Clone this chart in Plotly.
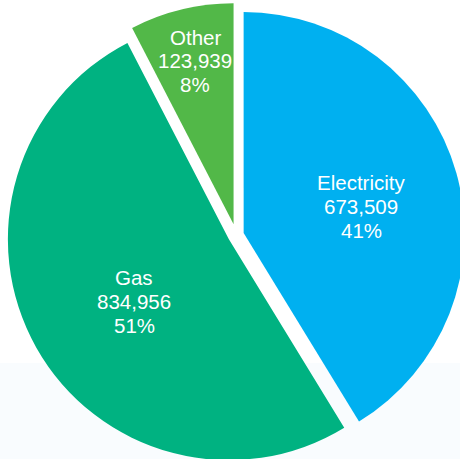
import plotly.graph_objects as go

# Energy consumption by fuel
labels = ["Electricity", "Gas", "Other"]
values = [673509, 834956, 123939]

colors = ["#00B0F0", "#00B281", "#52B848"]
pulls = [0.035, 0.038, 0.05]

# canvas (px); slightly wider than the viewport so the pie bleeds off the edges
W = H = 472
cx, cy, r = 236.2, 235.1, 221.0
half = r * (1 + max(pulls))
domain_x = [(cx - half) / W, (cx + half) / W]
domain_y = [1 - (cy + half) / H, 1 - (cy - half) / H]

fig = go.Figure(
    go.Pie(
        labels=labels,
        values=values,
        sort=False,
        direction="clockwise",
        rotation=0,
        pull=pulls,
        marker=dict(colors=colors, line=dict(width=0)),
        textinfo="none",
        hoverinfo="label+value+percent",
        showlegend=False,
        domain=dict(x=domain_x, y=domain_y),
    )
)

# label block centres (px) and line pitch
label_pos = [(361, 206.5), (134, 301.5), (195, 61)]
pitch = 24
total = sum(values)
font = dict(family="Arial, Liberation Sans, sans-serif", size=20.5, color="white")

annotations = []
for (lx, ly), name, v in zip(label_pos, labels, values):
    lines = [name, f"{v:,}", f"{round(100 * v / total)}%"]
    for i, line in enumerate(lines):
        yy = ly + (i - 1) * pitch
        annotations.append(
            dict(
                x=lx / W, y=1 - yy / H, xref="paper", yref="paper",
                text=line, showarrow=False, font=font,
                xanchor="center", yanchor="middle",
            )
        )

fig.update_layout(
    width=W,
    height=H,
    margin=dict(l=0, r=0, t=0, b=0),
    paper_bgcolor="white",
    plot_bgcolor="white",
    annotations=annotations,
    shapes=[
        dict(
            type="rect", xref="paper", yref="paper",
            x0=0, x1=1, y0=0, y1=1 - 363 / H,
            fillcolor="#F9FCFE", line=dict(width=0), layer="below",
        )
    ],
)

fig.write_html(
    "out.html",
    post_script="document.documentElement.style.overflow='hidden';document.body.style.overflow='hidden';document.body.style.margin='0';",
)
